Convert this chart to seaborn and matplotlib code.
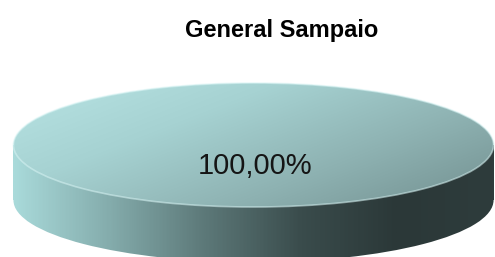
import numpy as np
import matplotlib
matplotlib.use("Agg")
import matplotlib.pyplot as plt
import seaborn as sns

# ---- data ----
labels = ["General Sampaio"]
values = [100.0]
title = "General Sampaio"

sns.set_theme(style="white")
plt.rcParams['font.family'] = ['Liberation Sans', 'DejaVu Sans']

fig = plt.figure(figsize=(4.95, 2.57), dpi=100)
ax = fig.add_axes([0, 0, 1, 1])

XL = (-1.056, 1.006)
YL = (-1.806, 2.339)
depth = 0.89

side_cmap = sns.blend_palette(["#a9dada", "#84acac", "#5c7878", "#3a4c4c", "#2b3838", "#2e3c3c"], as_cmap=True)
top_cmap = sns.blend_palette(["#b8e4e4", "#a6d2d2", "#8eb2b2", "#728f8f"], as_cmap=True)

# bottom (side) pie, shifted down by the depth
bot, _ = ax.pie(values, labels=None, center=(0, -depth), radius=1, startangle=90,
                wedgeprops=dict(facecolor="none", edgecolor="none"), frame=True)
# band between the two pies
band = ax.fill_between([-1, 1], [-depth, -depth], [0, 0], facecolor="none", edgecolor="none")

gx = np.linspace(0, 1, 400)[None, :].repeat(10, axis=0)
for clip in (bot[0], (band.get_paths()[0], ax.transData)):
    im = ax.imshow(gx, extent=[-1, 1, -depth - 1, 0], origin="lower", cmap=side_cmap,
                   aspect="auto", zorder=2, interpolation="bilinear")
    if isinstance(clip, tuple):
        im.set_clip_path(*clip)
    else:
        im.set_clip_path(clip)

# top pie
top, _, autotexts = ax.pie(values, center=(0, 0), radius=1, startangle=90,
                           autopct=lambda p: f"{p:.2f}%".replace(".", ","), pctdistance=0,
                           wedgeprops=dict(facecolor="none", edgecolor="none"),
                           textprops=dict(fontsize=21, color="#151515", zorder=6), frame=True)
xx, yy = np.meshgrid(np.linspace(0, 1, 300), np.linspace(0, 1, 200))
tg = 0.6 * xx + 0.4 * (1 - yy)
im = ax.imshow(tg, extent=[-1, 1, -1, 1], origin="lower", cmap=top_cmap,
               aspect="auto", zorder=3, interpolation="bilinear")
im.set_clip_path(top[0])

# subtle rim highlight
rim, _ = ax.pie(values, center=(0, 0), radius=1, startangle=90,
                wedgeprops=dict(facecolor="none", edgecolor="#d8f4f4", linewidth=1.2, alpha=0.55),
                frame=True)
for w in rim:
    w.set_zorder(4)

for t in autotexts:
    t.set_position((0.006, -0.34))

ax.set_aspect("auto")
ax.set_xlim(*XL)
ax.set_ylim(*YL)
ax.axis("off")

fig.text(282 / 495, 1 - 30 / 257, title, ha="center", va="center",
         fontsize=17, fontweight="bold", color="#000000")

fig.savefig("out.png", dpi=100)
